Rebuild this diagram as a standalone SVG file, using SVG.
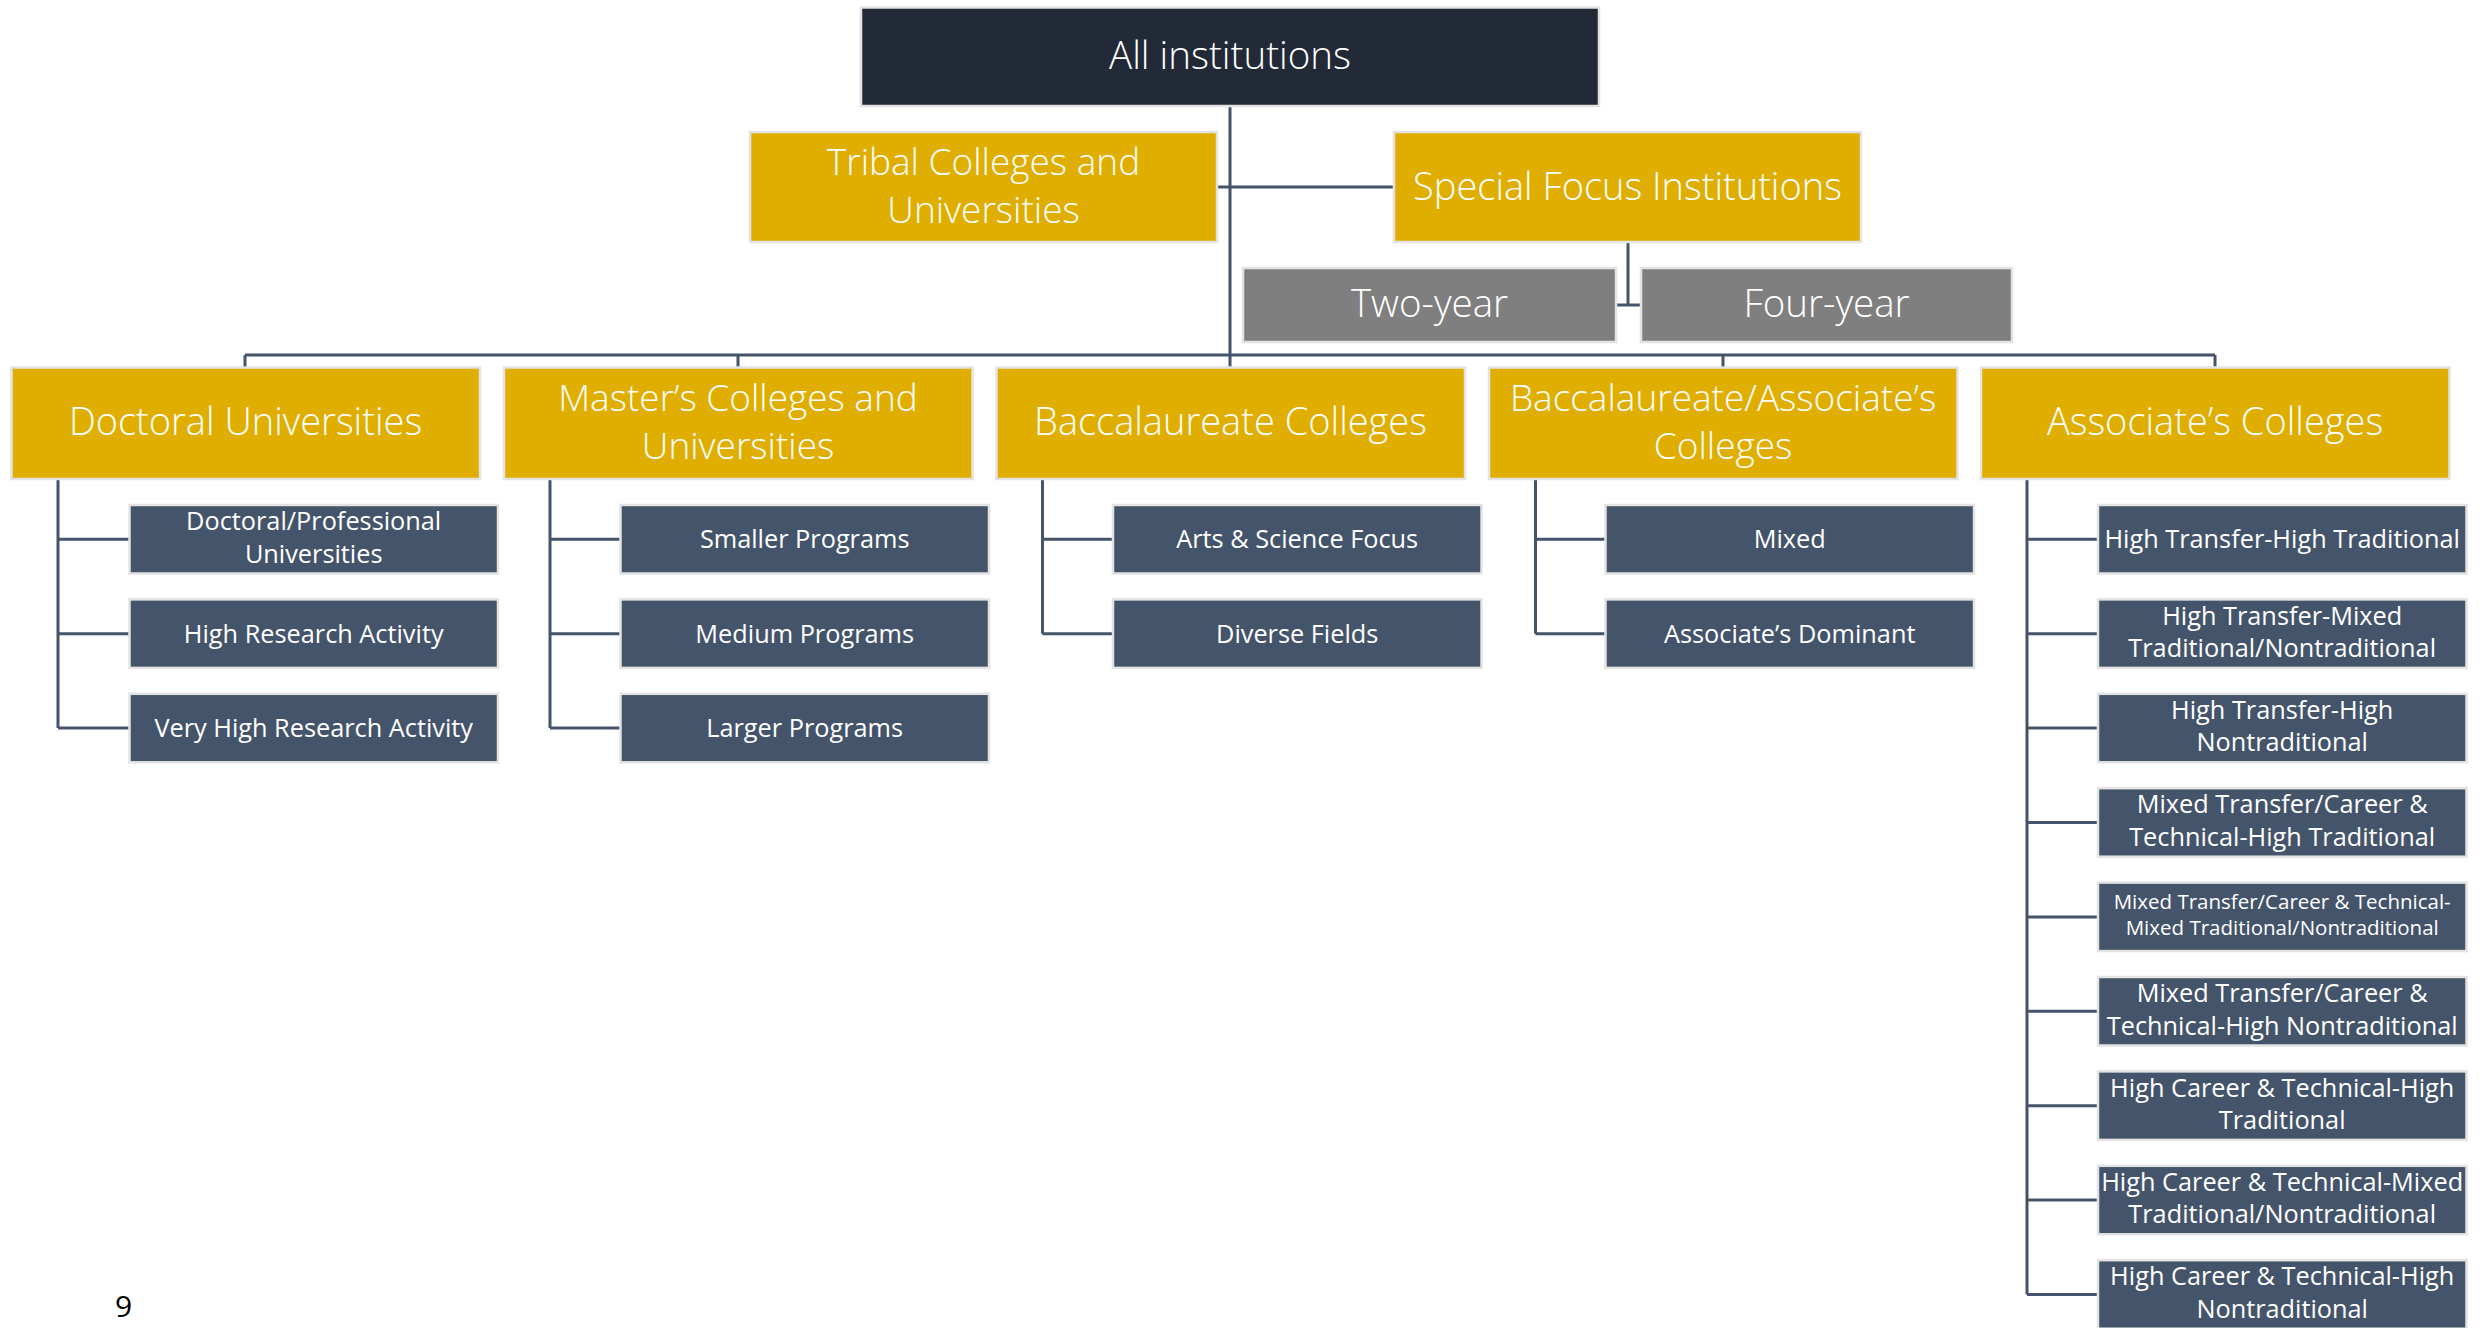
<svg xmlns="http://www.w3.org/2000/svg" width="2484" height="1328" viewBox="0 0 2484 1328">
<style>
.b{stroke:#E3E3E3;stroke-width:2.5}
.dark{fill:#232A37}
.gold{fill:#E0AE00}
.gray{fill:#7F7F7F}
.slate{fill:#44546A}
.con{stroke:#44546A;stroke-width:3;fill:none}
text{fill:#FFFFFF;font-family:"Open Sans","Noto Sans","Liberation Sans",sans-serif;text-anchor:middle}
.h{font-size:38px;font-weight:300}
.h2{font-size:37px;font-weight:300}
.t{font-size:38.5px;font-weight:300}
.g{font-size:38.5px;font-weight:300}
.c{font-size:25.3px;font-weight:400}
.s{font-size:20.5px;font-weight:400}
.pg{fill:#000000;font-size:30px;text-anchor:start}
</style>
<rect width="2484" height="1328" fill="#FFFFFF"/>
<g id="connectors">
<path class="con" d="M1230,106V367M1217,187H1394M1628,242V305M1616,305H1641"/>
<path class="con" d="M245,355H2215M245,355V367M738,355V367M1723,355V367M2215,355V367"/>
<path class="con" d="M58,479V728.1M58,539.3H129.5M58,633.7H129.5M58,728.1H129.5"/>
<path class="con" d="M550,479V728.1M550,539.3H620.5M550,633.7H620.5M550,728.1H620.5"/>
<path class="con" d="M1042.5,479V633.7M1042.5,539.3H1113M1042.5,633.7H1113"/>
<path class="con" d="M1535.5,479V633.7M1535.5,539.3H1605.5M1535.5,633.7H1605.5"/>
<path class="con" d="M2027,479V1294.5M2027,539.3H2098M2027,633.7H2098M2027,728.1H2098M2027,822.5H2098M2027,916.9H2098M2027,1011.3H2098M2027,1105.7H2098M2027,1200.1H2098M2027,1294.5H2098"/>
</g>
<g id="all-institutions"><rect class="dark b" x="861" y="7.5" width="738" height="98.5"/><text class="t" x="1230" y="69">All institutions</text></g>
<g id="tribal"><rect class="gold b" x="750" y="132" width="467" height="110"/><text class="h2" x="983.5" y="175">Tribal Colleges and</text><text class="h2" x="983.5" y="222.5">Universities</text></g>
<g id="special-focus"><rect class="gold b" x="1394" y="132" width="467" height="110"/><text class="h" x="1627.5" y="199.5">Special Focus Institutions</text></g>
<g id="two-year"><rect class="gray b" x="1243" y="268" width="373" height="74"/><text class="g" x="1429.5" y="317">Two-year</text></g>
<g id="four-year"><rect class="gray b" x="1641" y="268" width="371" height="74"/><text class="g" x="1826.5" y="317">Four-year</text></g>
<g id="doctoral"><rect class="gold b" x="11.5" y="367.5" width="468.5" height="111.5"/><text class="h" x="245.5" y="435">Doctoral Universities</text></g>
<g id="masters"><rect class="gold b" x="504" y="367.5" width="468.5" height="111.5"/><text class="h2" x="738" y="411">Master’s Colleges and</text><text class="h2" x="738" y="458.5">Universities</text></g>
<g id="baccalaureate"><rect class="gold b" x="996.5" y="367.5" width="468.5" height="111.5"/><text class="h" x="1230.5" y="435">Baccalaureate Colleges</text></g>
<g id="bacc-assoc"><rect class="gold b" x="1489" y="367.5" width="468.5" height="111.5"/><text class="h2" x="1723" y="411">Baccalaureate/Associate’s</text><text class="h2" x="1723" y="458.5">Colleges</text></g>
<g id="associates"><rect class="gold b" x="1981" y="367.5" width="468.5" height="111.5"/><text class="h" x="2215" y="435">Associate’s Colleges</text></g>
<g id="doc-prof"><rect class="slate b" x="129.5" y="505" width="368.5" height="68.5"/><text class="c" x="313.7" y="530">Doctoral/Professional</text><text class="c" x="313.7" y="562.5">Universities</text></g>
<g id="doc-high"><rect class="slate b" x="129.5" y="599.4" width="368.5" height="68.5"/><text class="c" x="313.7" y="642.5">High Research Activity</text></g>
<g id="doc-veryhigh"><rect class="slate b" x="129.5" y="693.8" width="368.5" height="68.5"/><text class="c" x="313.7" y="737">Very High Research Activity</text></g>
<g id="ma-small"><rect class="slate b" x="620.5" y="505" width="368.5" height="68.5"/><text class="c" x="804.7" y="548">Smaller Programs</text></g>
<g id="ma-medium"><rect class="slate b" x="620.5" y="599.4" width="368.5" height="68.5"/><text class="c" x="804.7" y="642.5">Medium Programs</text></g>
<g id="ma-large"><rect class="slate b" x="620.5" y="693.8" width="368.5" height="68.5"/><text class="c" x="804.7" y="737">Larger Programs</text></g>
<g id="ba-arts"><rect class="slate b" x="1113" y="505" width="368.5" height="68.5"/><text class="c" x="1297.2" y="548">Arts &amp; Science Focus</text></g>
<g id="ba-diverse"><rect class="slate b" x="1113" y="599.4" width="368.5" height="68.5"/><text class="c" x="1297.2" y="642.5">Diverse Fields</text></g>
<g id="baa-mixed"><rect class="slate b" x="1605.5" y="505" width="368.5" height="68.5"/><text class="c" x="1789.7" y="548">Mixed</text></g>
<g id="baa-assoc"><rect class="slate b" x="1605.5" y="599.4" width="368.5" height="68.5"/><text class="c" x="1789.7" y="642.5">Associate’s Dominant</text></g>
<g id="as-1"><rect class="slate b" x="2098" y="505" width="368.5" height="68.5"/><text class="c" x="2282.2" y="548">High Transfer-High Traditional</text></g>
<g id="as-2"><rect class="slate b" x="2098" y="599.4" width="368.5" height="68.5"/><text class="c" x="2282.2" y="624.5">High Transfer-Mixed</text><text class="c" x="2282.2" y="657">Traditional/Nontraditional</text></g>
<g id="as-3"><rect class="slate b" x="2098" y="693.8" width="368.5" height="68.5"/><text class="c" x="2282.2" y="718.9">High Transfer-High</text><text class="c" x="2282.2" y="751.4">Nontraditional</text></g>
<g id="as-4"><rect class="slate b" x="2098" y="788.2" width="368.5" height="68.5"/><text class="c" x="2282.2" y="813.3">Mixed Transfer/Career &amp;</text><text class="c" x="2282.2" y="845.8">Technical-High Traditional</text></g>
<g id="as-5"><rect class="slate b" x="2098" y="882.6" width="368.5" height="68.5"/><text class="s" x="2282.2" y="909">Mixed Transfer/Career &amp; Technical-</text><text class="s" x="2282.2" y="935">Mixed Traditional/Nontraditional</text></g>
<g id="as-6"><rect class="slate b" x="2098" y="977" width="368.5" height="68.5"/><text class="c" x="2282.2" y="1002.1">Mixed Transfer/Career &amp;</text><text class="c" x="2282.2" y="1034.6">Technical-High Nontraditional</text></g>
<g id="as-7"><rect class="slate b" x="2098" y="1071.4" width="368.5" height="68.5"/><text class="c" x="2282.2" y="1096.5">High Career &amp; Technical-High</text><text class="c" x="2282.2" y="1129">Traditional</text></g>
<g id="as-8"><rect class="slate b" x="2098" y="1165.8" width="368.5" height="68.5"/><text class="c" x="2282.2" y="1190.9">High Career &amp; Technical-Mixed</text><text class="c" x="2282.2" y="1223.4">Traditional/Nontraditional</text></g>
<g id="as-9"><rect class="slate b" x="2098" y="1260.2" width="368.5" height="68.5"/><text class="c" x="2282.2" y="1285.3">High Career &amp; Technical-High</text><text class="c" x="2282.2" y="1317.8">Nontraditional</text></g>
<text class="pg" x="115" y="1317">9</text>
</svg>
